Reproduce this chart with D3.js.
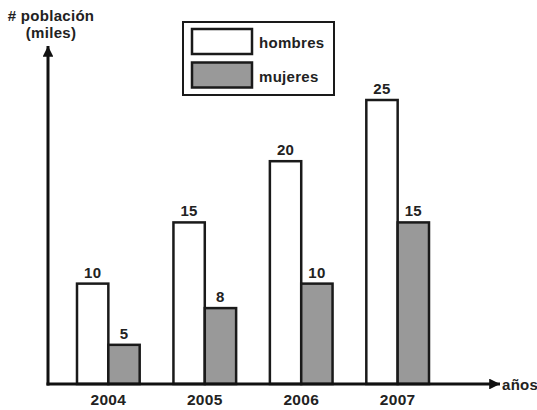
<!DOCTYPE html>
<html>
<head>
<meta charset="utf-8">
<script src="https://d3js.org/d3.v7.min.js"></script>
<style>
  html, body { margin: 0; padding: 0; background: #fff; }
  svg { font-family: 'Liberation Sans', Arial, sans-serif; font-weight: bold; letter-spacing: 0.3px; }
</style>
</head>
<body>
<div id="chart"></div>
<script>
// datos
const years = ['2004', '2005', '2006', '2007']
const series = ['hombres', 'mujeres']
const hombres = [10, 15, 20, 25]
const mujeres = [5, 8, 10, 15]
const fills = ['#ffffff', '#999999']

const width = 537, height = 410
const axisX = 48, axisY = 384

const svg = d3.select('#chart').append('svg')
  .attr('width', width)
  .attr('height', height)

// flechas
const defs = svg.append('defs')
defs.append('marker')
  .attr('id', 'arrow')
  .attr('viewBox', '0 0 10 10')
  .attr('refX', 10).attr('refY', 5)
  .attr('markerWidth', 5).attr('markerHeight', 3.6)
  .attr('markerUnits', 'strokeWidth')
  .attr('orient', 'auto')
  .append('path')
  .attr('d', 'M0,0L10,5L0,10Z')
  .attr('fill', '#111')

// escalas
const x0 = d3.scaleBand().domain(years).range([77, 429]).paddingInner(0.35).paddingOuter(0)
const x1 = d3.scaleBand().domain(series).range([0, x0.bandwidth()])
const y = d3.scaleLinear().domain([1.8, 25]).range([axisY, 100])

const rows = years.map((yr, i) => ({ year: yr, values: [hombres[i], mujeres[i]] }))

const groups = svg.selectAll('g.year')
  .data(rows)
  .enter().append('g')
  .attr('class', 'year')
  .attr('transform', d => `translate(${x0(d.year)},0)`)

groups.selectAll('rect')
  .data(d => d.values.map((v, j) => ({ key: series[j], v, j })))
  .enter().append('rect')
  .attr('x', d => x1(d.key))
  .attr('y', d => y(d.v))
  .attr('width', x1.bandwidth())
  .attr('height', d => axisY - y(d.v))
  .attr('fill', d => fills[d.j])
  .attr('stroke', '#1a1a1a')
  .attr('stroke-width', 2.5)

groups.selectAll('text.val')
  .data(d => d.values.map((v, j) => ({ key: series[j], v })))
  .enter().append('text')
  .attr('class', 'val')
  .attr('x', d => x1(d.key) + x1.bandwidth() / 2)
  .attr('y', d => y(d.v) - 6)
  .attr('text-anchor', 'middle')
  .attr('font-size', 15)
  .attr('fill', '#222')
  .text(d => d.v)

// etiquetas de años
svg.selectAll('text.yr')
  .data(years)
  .enter().append('text')
  .attr('class', 'yr')
  .attr('x', d => x0(d) + x0.bandwidth() / 2)
  .attr('y', 405)
  .attr('text-anchor', 'middle')
  .attr('font-size', 15.5)
  .attr('fill', '#222')
  .text(d => d)

// ejes
svg.append('line')
  .attr('x1', axisX).attr('y1', axisY + 1.5)
  .attr('x2', axisX).attr('y2', 46)
  .attr('stroke', '#111').attr('stroke-width', 3)
  .attr('marker-end', 'url(#arrow)')
svg.append('line')
  .attr('x1', axisX - 1.5).attr('y1', axisY)
  .attr('x2', 500).attr('y2', axisY)
  .attr('stroke', '#111').attr('stroke-width', 3)
  .attr('marker-end', 'url(#arrow)')

svg.append('text')
  .attr('x', 502).attr('y', 390)
  .attr('font-size', 15).attr('fill', '#222')
  .text('años')

svg.append('text')
  .attr('x', 51).attr('y', 21)
  .attr('text-anchor', 'middle')
  .attr('font-size', 15).attr('fill', '#222')
  .text('# población')
svg.append('text')
  .attr('x', 51).attr('y', 38)
  .attr('text-anchor', 'middle')
  .attr('font-size', 15).attr('fill', '#222')
  .text('(miles)')

// leyenda
const legend = svg.append('g')
legend.append('rect')
  .attr('x', 183).attr('y', 22)
  .attr('width', 151).attr('height', 73)
  .attr('fill', '#fff')
  .attr('stroke', '#1a1a1a').attr('stroke-width', 2)

const items = legend.selectAll('g.item')
  .data(series)
  .enter().append('g')
  .attr('class', 'item')
  .attr('transform', (d, i) => `translate(192,${29 + i * 33.5})`)
items.append('rect')
  .attr('width', 60).attr('height', 25)
  .attr('fill', (d, i) => fills[i])
  .attr('stroke', '#1a1a1a').attr('stroke-width', 2.5)
items.append('text')
  .attr('x', 67).attr('y', 19)
  .attr('font-size', 15).attr('fill', '#222')
  .text(d => d)
</script>
</body>
</html>
